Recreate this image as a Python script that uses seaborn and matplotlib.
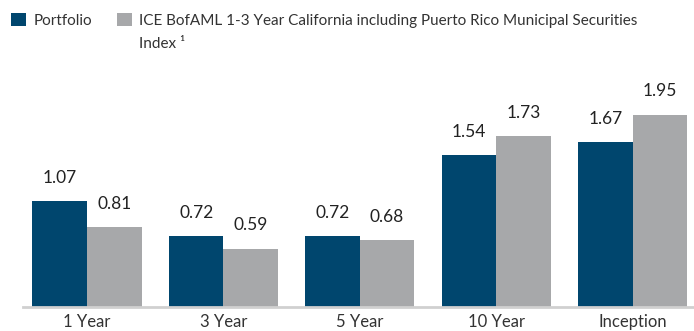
import matplotlib
matplotlib.use("Agg")
import matplotlib.pyplot as plt
from matplotlib.patches import Patch
import seaborn as sns
import pandas as pd

periods = ["1 Year", "3 Year", "5 Year", "10 Year", "Inception"]
portfolio = [1.07, 0.72, 0.72, 1.54, 1.67]
index_returns = [0.81, 0.59, 0.68, 1.73, 1.95]
series_names = ["Portfolio",
                "ICE BofAML 1-3 Year California including Puerto Rico Municipal Securities Index \u00b9"]
colors = ["#00466e", "#a7a8aa"]

df = pd.DataFrame({
    "period": periods * 2,
    "value": portfolio + index_returns,
    "series": [series_names[0]] * len(periods) + [series_names[1]] * len(periods),
})

sns.set_style("white")
plt.rcParams["font.family"] = ["Lato", "DejaVu Sans"]

W, H = 694, 331
fig = plt.figure(figsize=(W / 100, H / 100), dpi=100)
ax = fig.add_axes([0.033, 0.073, 0.967, 0.70])

sns.barplot(data=df, x="period", y="value", hue="series", order=periods,
            hue_order=series_names, palette=colors, width=0.8, saturation=1,
            linewidth=0, errorbar=None, ax=ax, legend=False)

for cont in ax.containers:
    ax.bar_label(cont, fmt="%.2f", padding=11, fontsize=12.5, color="#222222")

ax.set_xlim(-0.47, 4.45)
ax.set_ylim(0, 2.35)
ax.set_xlabel("")
ax.set_ylabel("")
ax.set_yticks([])
ax.tick_params(axis="x", length=0, pad=5, labelsize=12, labelcolor="#333333")
for s in ["top", "right", "left"]:
    ax.spines[s].set_visible(False)
ax.spines["bottom"].set_color("#d0d0d0")
ax.spines["bottom"].set_linewidth(2)

# legend: the long index name wraps onto a second line under its own text
first_line, second_line = series_names[1].rsplit(" Index", 1)
handles = [Patch(facecolor=c, edgecolor="none") for c in colors]
leg = fig.legend(handles, [series_names[0], first_line], loc="upper left",
                 bbox_to_anchor=(11 / W, 1 - 13 / H), borderaxespad=0, borderpad=0,
                 ncol=2, frameon=False, fontsize=11, handlelength=0.98, handleheight=0.98,
                 handletextpad=0.5, columnspacing=1.6, labelcolor="#333333")

fig.canvas.draw()
renderer = fig.canvas.get_renderer()
tb = leg.get_texts()[1].get_window_extent(renderer)
fig.text(tb.x0 / W, 1 - 48 / H, "Index" + second_line, fontsize=11, color="#333333",
         ha="left", va="baseline")

fig.savefig("out.png", dpi=100)
